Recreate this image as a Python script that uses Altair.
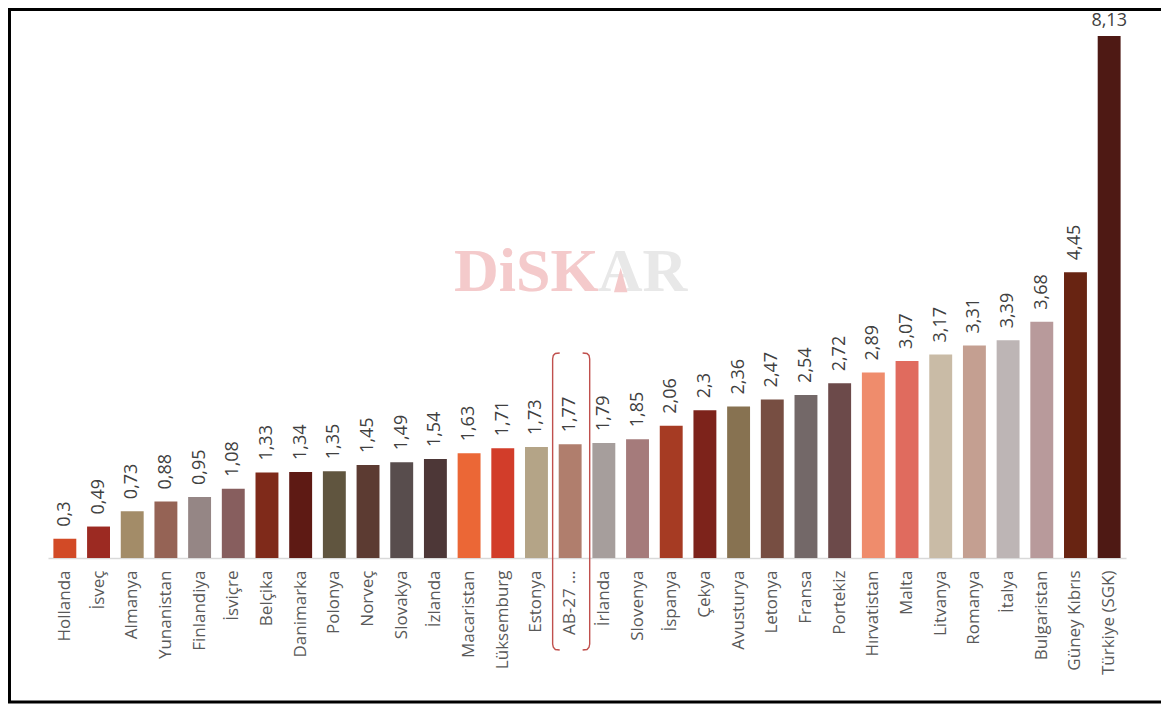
import altair as alt
import pandas as pd

# ---- data -------------------------------------------------------------
countries = ["Hollanda", "İsveç", "Almanya", "Yunanistan", "Finlandiya", "İsviçre",
             "Belçika", "Danimarka", "Polonya", "Norveç", "Slovakya", "İzlanda",
             "Macaristan", "Lüksemburg", "Estonya", "AB-27 ...", "İrlanda", "Slovenya",
             "İspanya", "Çekya", "Avusturya", "Letonya", "Fransa", "Portekiz",
             "Hırvatistan", "Malta", "Litvanya", "Romanya", "İtalya", "Bulgaristan",
             "Güney Kıbrıs", "Türkiye (SGK)"]
values = [0.3, 0.49, 0.73, 0.88, 0.95, 1.08, 1.33, 1.34, 1.35, 1.45, 1.49, 1.54,
          1.63, 1.71, 1.73, 1.77, 1.79, 1.85, 2.06, 2.3, 2.36, 2.47, 2.54, 2.72,
          2.89, 3.07, 3.17, 3.31, 3.39, 3.68, 4.45, 8.13]
colors = ["#D24A26", "#9C2A22", "#A38C68", "#956355", "#958685", "#875E5E",
          "#7F2A1A", "#5E1A14", "#60553F", "#5C3B32", "#584D4D", "#4D3737",
          "#EB6736", "#D23D2A", "#B4A487", "#B07E6D", "#A69E9C", "#A57B7B",
          "#A63B23", "#7D231B", "#877251", "#774E42", "#736868", "#6C4A4A",
          "#EF8C6C", "#E06B5E", "#C9BBA6", "#C49F91", "#BDB5B5", "#B89A9B",
          "#682412", "#4E1914"]
labels = [f"{v:g}".replace(".", ",") for v in values]

# bracket around the AB-27 bar (x in bar-index units, y in value units)
br_x = [15.19, 15.06, 15.0, 14.98, 14.98, 15.0, 15.06, 15.19,
        15.87, 16.0, 16.06, 16.08, 16.08, 16.06, 16.0, 15.87]
br_y = [3.193, 3.185, 3.155, 3.10, -1.34, -1.39, -1.425, -1.433] * 2
br_side = ["left"] * 8 + ["right"] * 8
br_order = list(range(8)) * 2

# watermark
wm_text = ["DiSK", "AR"]
wm_x = [14.2, 17.65]
wm_y = [4.45, 4.45]
wm_color = ["#F4CACB", "#E8E8E8"]

# outer frame (index / value units)
frame_x = [-1.143]
frame_x2 = [34.0]
frame_y = [8.543]
frame_y2 = [-2.243]

# ---- frames -----------------------------------------------------------
bars_df = pd.DataFrame({"country": countries, "value": values, "label": labels})
br_df = pd.DataFrame({"x": br_x, "y": br_y, "side": br_side, "order": br_order})
wm_df = pd.DataFrame({"t": wm_text, "x": wm_x, "y": wm_y, "c": wm_color})
tri_df = pd.DataFrame({"x": [17.0], "y": [4.33]})
fr_df = pd.DataFrame({"x": frame_x, "x2": frame_x2, "y": frame_y, "y2": frame_y2})

yscale = alt.Scale(domain=[0, 8.13], nice=False, zero=True)
qx = alt.Scale(domain=[0, 32], nice=False, zero=False)

base = alt.Chart(bars_df)

bars = base.mark_bar().encode(
    x=alt.X("country:N", sort=countries,
            scale=alt.Scale(paddingInner=0.32, paddingOuter=0.16),
            axis=alt.Axis(title=None, labelAngle=270, labelFont="Open Sans",
                          labelFontSize=17, labelColor="#595959", ticks=False,
                          domainColor="#D9D9D9", domainWidth=1.5, labelPadding=12,
                          labelOverlap=False, grid=False)),
    y=alt.Y("value:Q", scale=yscale, axis=None),
    color=alt.Color("country:N", scale=alt.Scale(domain=countries, range=colors), legend=None),
)

vlabels = base.transform_filter(alt.datum.value < 8).mark_text(
    angle=270, align="left", baseline="middle", dx=12,
    font="Open Sans", fontSize=18, color="#404040"
).encode(
    x=alt.X("country:N", sort=countries),
    y=alt.Y("value:Q", scale=yscale),
    text="label:N",
)

toplabel = base.transform_filter(alt.datum.value >= 8).mark_text(
    align="center", baseline="bottom", dy=-6,
    font="Open Sans", fontSize=18, color="#404040"
).encode(
    x=alt.X("country:N", sort=countries),
    y=alt.Y("value:Q", scale=yscale),
    text="label:N",
)

main = alt.layer(bars, vlabels, toplabel)

bracket = alt.Chart(br_df).mark_line(color="#C0504D", strokeWidth=1.4).encode(
    x=alt.X("x:Q", scale=qx, axis=None),
    y=alt.Y("y:Q", scale=yscale),
    detail="side:N",
    order="order:Q",
)

tri = alt.Chart(tri_df).mark_point(
    shape="M0,-1L0.55,1L-0.55,1Z", filled=True, color="#F4CACB", opacity=1, size=600
).encode(
    x=alt.X("x:Q", scale=qx, axis=None),
    y=alt.Y("y:Q", scale=yscale),
)

watermark = alt.Chart(wm_df).mark_text(
    font="Liberation Serif", fontWeight="bold", fontSize=62,
    align="center", baseline="middle"
).encode(
    x=alt.X("x:Q", scale=qx, axis=None),
    y=alt.Y("y:Q", scale=yscale),
    text="t:N",
    color=alt.Color("c:N", scale=None),
)

frame = alt.Chart(fr_df).mark_rect(
    filled=False, stroke="black", strokeWidth=3
).encode(
    x=alt.X("x:Q", scale=qx, axis=None), x2="x2:Q",
    y=alt.Y("y:Q", scale=yscale), y2="y2:Q",
)

overlay = alt.layer(watermark, tri, bracket, frame)

chart = alt.layer(overlay, main).resolve_scale(
    x="independent", color="independent"
).properties(
    width=1078, height=522,
    padding={"left": 40, "top": 28, "right": 35, "bottom": 146},
    autosize="none",
).configure_view(stroke=None)

chart.save("out.html", embed_options={"renderer": "svg", "actions": False})
